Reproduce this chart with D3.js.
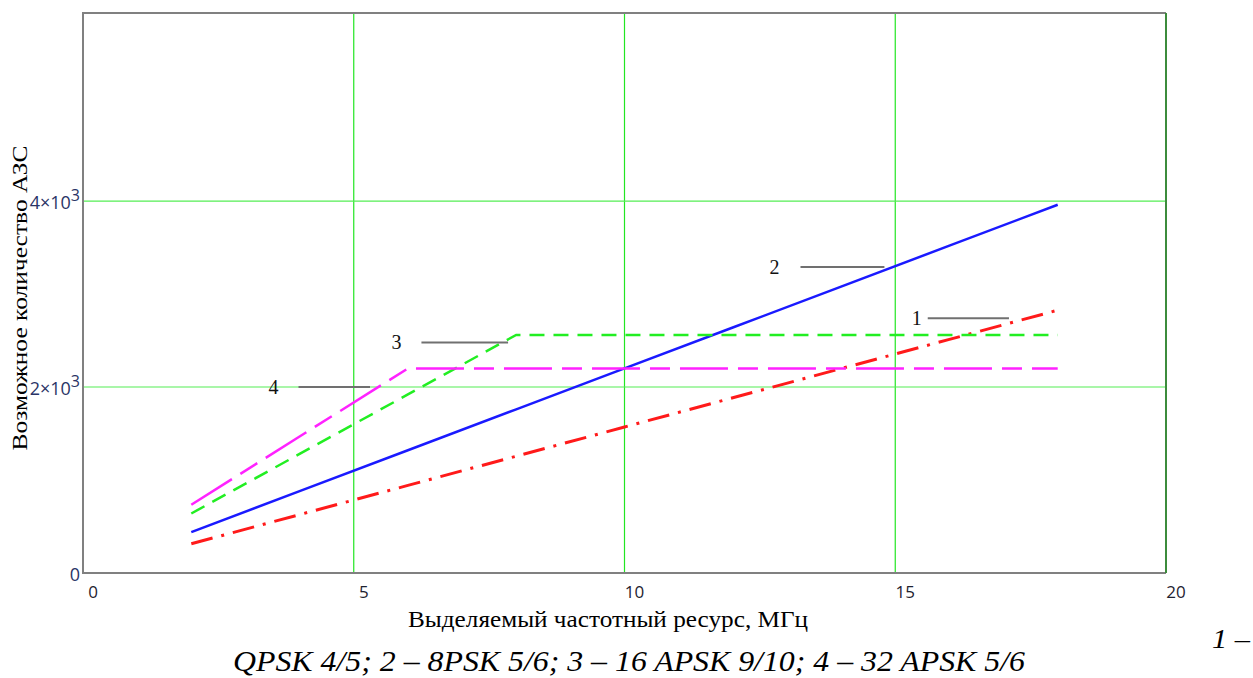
<!DOCTYPE html>
<html>
<head>
<meta charset="utf-8">
<script src="https://cdn.jsdelivr.net/npm/d3@7"></script>
<style>
  body { margin: 0; background: #fff; }
  svg { display: block; }
</style>
</head>
<body>
<svg id="chart" width="1253" height="678"></svg>
<script>
// frequency resource, MHz
const freq = [2, 4, 6, 8, 10, 12, 14, 16, 18];
// 1 - QPSK 4/5
const qpsk = [314, 628, 942, 1256, 1570, 1884, 2198, 2512, 2826];
// 2 - 8PSK 5/6
const psk8 = [440, 880, 1320, 1760, 2200, 2640, 3080, 3520, 3960];
// 3 - 16 APSK 9/10
const apsk16 = [640, 1280, 1920, 2560, 2560, 2560, 2560, 2560, 2560];
// 4 - 32 APSK 5/6
const apsk32 = [734, 1468, 2200, 2200, 2200, 2200, 2200, 2200, 2200];

const xTicks = [0, 5, 10, 15, 20];
const yTicks = [0, 2000, 4000];

const svg = d3.select("#chart");
const plotLeft = 83, plotRight = 1166, plotTop = 13, plotBottom = 573;

const x = d3.scaleLinear().domain([0, 20]).range([plotLeft, plotRight]);
const y = d3.scaleLinear().domain([0, 6022]).range([plotBottom, plotTop]);

// grid
const grid = svg.append("g");
grid.selectAll("line.gx")
  .data(xTicks.slice(1, -1))
  .enter().append("line")
  .attr("x1", d => x(d)).attr("x2", d => x(d))
  .attr("y1", plotTop).attr("y2", plotBottom)
  .attr("stroke", "#22e622").attr("stroke-width", 1.2);
grid.selectAll("line.gy")
  .data(yTicks.slice(1))
  .enter().append("line")
  .attr("x1", plotLeft).attr("x2", plotRight)
  .attr("y1", d => y(d)).attr("y2", d => y(d))
  .attr("stroke", "#55ee55").attr("stroke-width", 1.2);

// frame
svg.append("path")
  .attr("d", `M${plotRight},${plotTop}H${plotLeft}V${plotBottom}H${plotRight}`)
  .attr("fill", "none").attr("stroke", "#808080").attr("stroke-width", 2);
svg.append("line")
  .attr("x1", plotRight).attr("x2", plotRight).attr("y1", plotTop).attr("y2", plotBottom)
  .attr("stroke", "#3c8c3c").attr("stroke-width", 2);

// tick labels
svg.selectAll("text.xt")
  .data(xTicks)
  .enter().append("text")
  .attr("x", d => x(d) + 10)
  .attr("y", 598)
  .attr("text-anchor", "middle")
  .attr("font-family", "Open Sans, sans-serif")
  .attr("font-size", 17)
  .attr("fill", "#1e2230")
  .text(d => d);

const yt = svg.selectAll("text.yt")
  .data(yTicks)
  .enter().append("text")
  .attr("x", 80)
  .attr("y", d => y(d) + 8)
  .attr("text-anchor", "end")
  .attr("font-family", "Open Sans, sans-serif")
  .attr("font-size", 18)
  .attr("fill", "#2a3466");
yt.each(function (d) {
  const t = d3.select(this);
  if (d === 0) { t.text("0"); return; }
  t.append("tspan").text(`${d / 1000}\u00d710`);
  t.append("tspan").attr("dy", -8).attr("font-size", 16).text("3");
});

// axis titles
svg.append("text")
  .attr("transform", "translate(27,298) rotate(-90)")
  .attr("text-anchor", "middle")
  .attr("font-family", "Liberation Serif, serif")
  .attr("font-size", 22)
  .attr("textLength", 305)
  .attr("lengthAdjust", "spacingAndGlyphs")
  .text("Возможное количество АЗС");

svg.append("text")
  .attr("x", 608).attr("y", 627)
  .attr("text-anchor", "middle")
  .attr("font-family", "Liberation Serif, serif")
  .attr("font-size", 23)
  .attr("textLength", 400)
  .attr("lengthAdjust", "spacingAndGlyphs")
  .text("Выделяемый частотный ресурс, МГц");

// series
const line = d3.line()
  .x(d => x(d[0]))
  .y(d => y(d[1]));

const series = [
  { values: qpsk, color: "#ff1a1a", width: 3, dash: "22,9,3,9" },
  { values: psk8, color: "#1a1aff", width: 2.5, dash: null },
  { values: apsk16, color: "#22ee22", width: 2.5, dash: "15,9" },
  { values: apsk32, color: "#ff22ff", width: 2.5, dash: "48,10,20,10" }
];

svg.append("g").selectAll("path")
  .data(series)
  .enter().append("path")
  .attr("d", s => line(freq.map((f, i) => [f, s.values[i]])))
  .attr("fill", "none")
  .attr("stroke", s => s.color)
  .attr("stroke-width", s => s.width)
  .attr("stroke-dasharray", s => s.dash);

// curve labels with leader lines
const labels = [
  { name: "1", x1: 15.6, x2: 17.1, v: 2740, gap: 6 },
  { name: "2", x1: 13.25, x2: 14.8, v: 3290, gap: 21 },
  { name: "3", x1: 6.25, x2: 7.85, v: 2480, gap: 20 },
  { name: "4", x1: 3.98, x2: 5.3, v: 2000, gap: 20 }
];
const lab = svg.append("g");
lab.selectAll("line")
  .data(labels)
  .enter().append("line")
  .attr("x1", d => x(d.x1)).attr("x2", d => x(d.x2))
  .attr("y1", d => y(d.v)).attr("y2", d => y(d.v))
  .attr("stroke", "#707070").attr("stroke-width", 2);
lab.selectAll("text")
  .data(labels)
  .enter().append("text")
  .attr("x", d => x(d.x1) - d.gap)
  .attr("y", d => y(d.v) + 7)
  .attr("text-anchor", "end")
  .attr("font-family", "Liberation Serif, serif")
  .attr("font-size", 20)
  .attr("fill", "#111")
  .text(d => d.name);

// caption
svg.append("text")
  .attr("x", 1212).attr("y", 648)
  .attr("font-family", "Liberation Serif, serif")
  .attr("font-style", "italic")
  .attr("font-size", 28)
  .attr("textLength", 38)
  .attr("lengthAdjust", "spacingAndGlyphs")
  .text("1 –");
svg.append("text")
  .attr("x", 629).attr("y", 671)
  .attr("text-anchor", "middle")
  .attr("font-family", "Liberation Serif, serif")
  .attr("font-style", "italic")
  .attr("font-size", 29)
  .attr("textLength", 792)
  .attr("lengthAdjust", "spacingAndGlyphs")
  .text("QPSK 4/5; 2 – 8PSK 5/6; 3 – 16 APSK 9/10; 4 – 32 APSK 5/6");
</script>
</body>
</html>
